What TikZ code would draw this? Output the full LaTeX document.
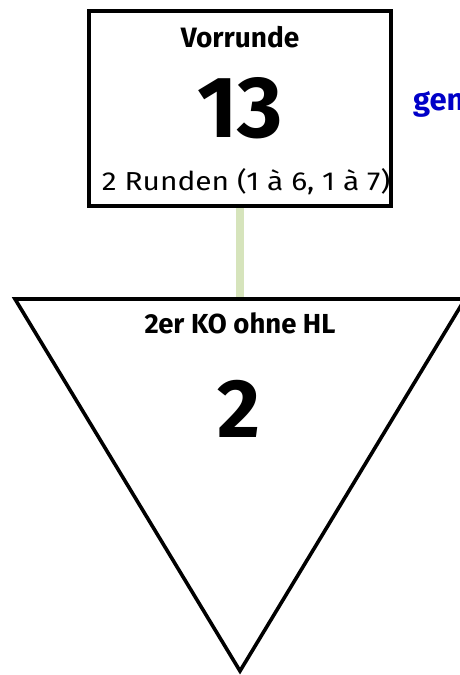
\documentclass[tikz,border=0pt]{standalone}
\usepackage{fontspec}
\setmainfont{Fira Sans}
\newfontfamily\widefont[FakeStretch=1.15]{Fira Sans}
\definecolor{linkgreen}{RGB}{214,228,188}
\definecolor{genblue}{RGB}{0,0,200}
\begin{document}
\begin{tikzpicture}[x=1pt,y=-1pt,
  boxstyle/.style={draw=black,line width=4pt,fill=white,minimum width=302pt,minimum height=195pt,inner sep=0pt},
  txt/.style={inner sep=0pt,anchor=base},
  link/.style={draw=linkgreen,line width=8pt}]
\useasboundingbox (0,0) rectangle (460,675);
\clip (0,0) rectangle (460,675);
% box
\node[boxstyle] (vr) at (240,108.5) {};
% triangle
\coordinate (tl) at (15,299);
\coordinate (tr) at (465,299);
\coordinate (ap) at (240,671);
\coordinate (tt) at (240,299);
\draw[link] (vr.south) -- (tt);
\draw[line width=3.6pt,line join=miter,fill=white] (tl) -- (tr) -- (ap) -- cycle;
% texts
\node[txt] (t1) at (240,47) {\fontsize{28}{30}\selectfont\bfseries Vorrunde};
\node[txt] (t2) at (240,137) {\fontsize{87}{89}\selectfont\bfseries 13};
\node[txt] (t3) at (246,190) {\widefont\fontsize{26}{28}\selectfont 2 Runden (1 à 6, 1 à 7)};
\node[txt,anchor=base west] (gen) at (413,110) {\fontsize{31}{33}\selectfont\bfseries\color{genblue}gen};
\node[txt] (t4) at (240,333) {\fontsize{27.5}{29}\selectfont\bfseries 2er KO ohne HL};
\node[txt] (t5) at (239,437) {\fontsize{83}{85}\selectfont\bfseries 2};
\end{tikzpicture}
\end{document}
